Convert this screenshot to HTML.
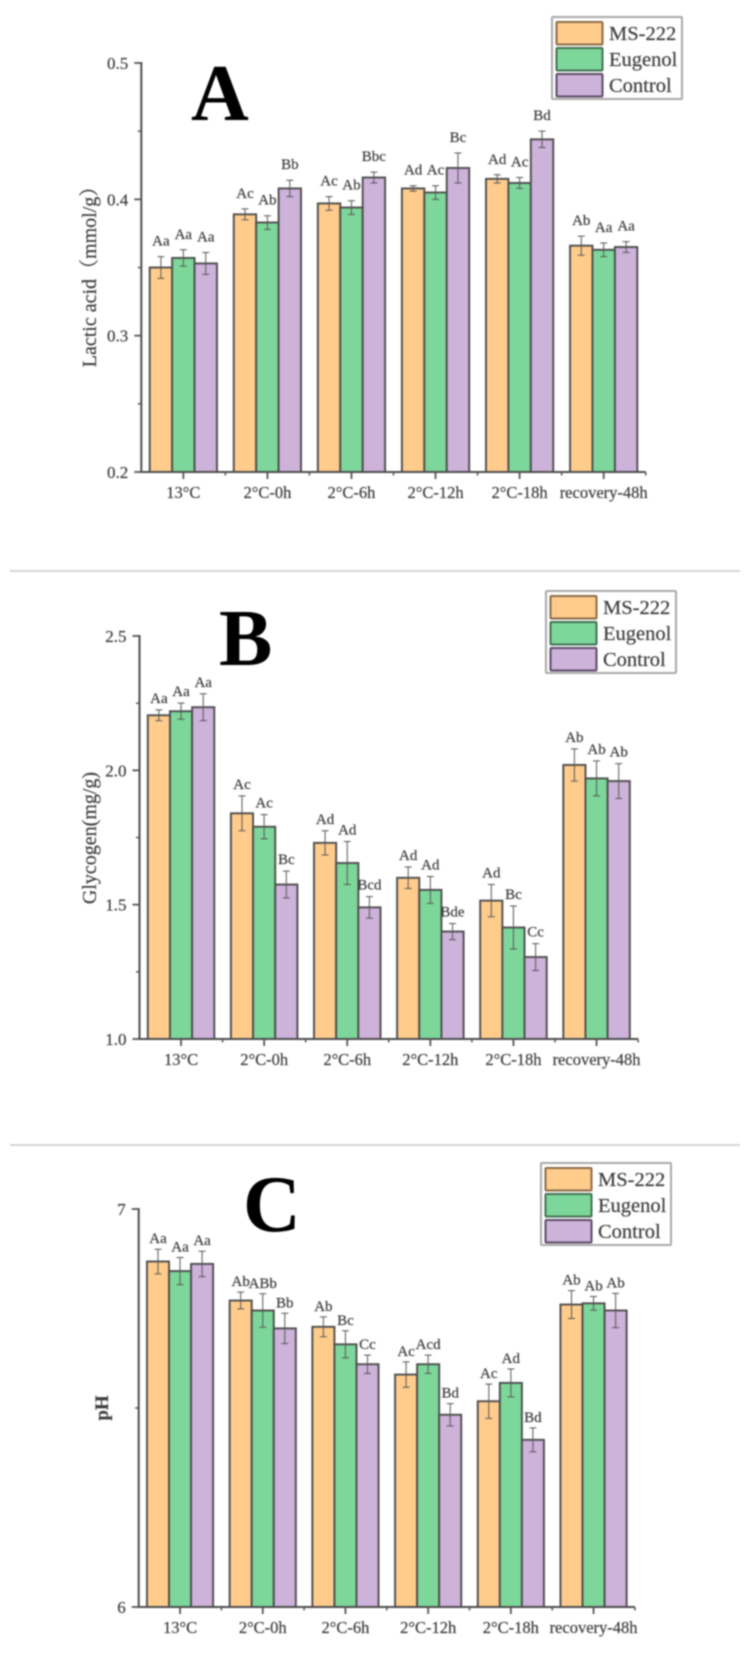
<!DOCTYPE html>
<html lang="en">
<head>
<meta charset="utf-8">
<title>Lactic acid, glycogen and pH bar charts</title>
<style>
html,body{margin:0;padding:0;background:#fff;width:752px;height:1666px;overflow:hidden}
svg{display:block;filter:blur(0.8px)}
text{font-family:"Liberation Serif","Noto Serif CJK SC",serif;fill:#3c3c3c;stroke:#3c3c3c;stroke-width:0.2px}
</style>
</head>
<body>
<svg id="figure" width="752" height="1666" viewBox="0 0 752 1666" xmlns="http://www.w3.org/2000/svg">
<rect x="0" y="0" width="752" height="1666" fill="#fff"/>
<line x1="10" x2="740" y1="571" y2="571" stroke="#c8c8c8" stroke-width="1.5"/>
<line x1="10" x2="740" y1="1145" y2="1145" stroke="#c8c8c8" stroke-width="1.5"/>
</svg>
<script>
const categories = ['13°C','2°C-0h','2°C-6h','2°C-12h','2°C-18h','recovery-48h'];
const seriesNames = ['MS-222','Eugenol','Control'];

const lacticMs = [0.350,0.389,0.397,0.408,0.415,0.366];
const lacticEu = [0.357,0.383,0.394,0.405,0.412,0.363];
const lacticCt = [0.353,0.408,0.416,0.423,0.444,0.365];
const lacticMsErr = [0.008,0.004,0.005,0.002,0.003,0.007];
const lacticEuErr = [0.006,0.005,0.005,0.005,0.004,0.005];
const lacticCtErr = [0.008,0.006,0.004,0.011,0.006,0.004];
const lacticMsSig = ['Aa','Ac','Ac','Ad','Ad','Ab'];
const lacticEuSig = ['Aa','Ab','Ab','Ac','Ac','Aa'];
const lacticCtSig = ['Aa','Bb','Bbc','Bc','Bd','Aa'];
const lacticTicks = [0.2,0.3,0.4,0.5];
const lacticTickLabels = ['0.2','0.3','0.4','0.5'];
const lacticMinor = [0.25,0.35,0.45];

const glycogenMs = [2.205,1.84,1.73,1.60,1.515,2.02];
const glycogenEu = [2.22,1.79,1.655,1.555,1.415,1.97];
const glycogenCt = [2.235,1.575,1.49,1.40,1.305,1.96];
const glycogenMsErr = [0.02,0.065,0.045,0.04,0.06,0.06];
const glycogenEuErr = [0.03,0.045,0.08,0.05,0.08,0.065];
const glycogenCtErr = [0.05,0.05,0.04,0.03,0.05,0.065];
const glycogenMsSig = ['Aa','Ac','Ad','Ad','Ad','Ab'];
const glycogenEuSig = ['Aa','Ac','Ad','Ad','Bc','Ab'];
const glycogenCtSig = ['Aa','Bc','Bcd','Bde','Cc','Ab'];
const glycogenTicks = [1.0,1.5,2.0,2.5];
const glycogenTickLabels = ['1.0','1.5','2.0','2.5'];
const glycogenMinor = [1.25,1.75,2.25];

const phMs = [6.868,6.77,6.704,6.584,6.517,6.76];
const phEu = [6.844,6.745,6.66,6.61,6.563,6.763];
const phCt = [6.862,6.70,6.61,6.483,6.42,6.745];
const phMsErr = [0.031,0.021,0.025,0.032,0.043,0.035];
const phEuErr = [0.034,0.042,0.034,0.023,0.035,0.017];
const phCtErr = [0.032,0.038,0.023,0.028,0.03,0.043];
const phMsSig = ['Aa','Ab','Ab','Ac','Ac','Ab'];
const phEuSig = ['Aa','ABb','Bc','Acd','Ad','Ab'];
const phCtSig = ['Aa','Bb','Cc','Bd','Bd','Ab'];
const phTicks = [6,7];
const phTickLabels = ['6','7'];
const phMinor = [6.5];

const fills = ['#FFCC8C','#7DD79A','#CDB2DA'];
const edges = ['#8a6a45','#3f6f50','#5a4a66'];
const svg = document.getElementById('figure');
const NS = 'http://www.w3.org/2000/svg';

function mk(tag, attrs, parent, txt){
  const el = document.createElementNS(NS, tag);
  for(const k in attrs){ el.setAttribute(k, attrs[k]); }
  if(txt !== undefined){ el.textContent = txt; }
  (parent || svg).appendChild(el);
  return el;
}

function drawPanel(p){
  const g = mk('g', {});
  
  
  const yScale = v => p.yBottom - (v - p.min) / (p.max - p.min) * (p.yBottom - p.yTop);
  const xCenter = i => p.x0 + p.step * (i + 0.5);
  const barW = p.step * 0.8 / 3;
  const xEnd = p.x0 + p.step * categories.length;

  p.series.forEach((vals, s) => {
    vals.forEach((v, i) => {
      const left = xCenter(i) + (s - 1.5) * barW;
      const top = yScale(v);
      const bar = mk('rect', {x:left, y:top, width:barW, height:p.yBottom - top, fill:fills[s], stroke:'#4c4c4c', 'stroke-width':1.9}, g);
      
      
    });
  });

  p.series.forEach((vals, s) => {
    vals.forEach((v, i) => {
      const cx = xCenter(i) + (s - 1) * barW;
      const e = p.errors[s][i];
      const yHi = yScale(v + e);
      const yLo = yScale(v - e);
      const eb = mk('path', {d:'M'+cx+' '+yHi+'V'+yLo+'M'+(cx-3.5)+' '+yHi+'h7M'+(cx-3.5)+' '+yLo+'h7', stroke:'#555', 'stroke-width':1, fill:'none'}, g);
      
      
      const lab = mk('text', {x:cx, y:yHi - p.sigGap, 'text-anchor':'middle', 'font-size':15}, g, p.sig[s][i]);
      
      
    });
  });

  const yAxis = mk('line', {x1:p.x0, x2:p.x0, y1:p.yTop - 1, y2:p.yBottom + 1, stroke:'#4c4c4c', 'stroke-width':2}, g);
  
  
  const xAxis = mk('line', {x1:p.x0, x2:xEnd, y1:p.yBottom, y2:p.yBottom, stroke:'#4c4c4c', 'stroke-width':2}, g);
  
  

  p.ticks.forEach((t, i) => {
    const y = yScale(t);
    const tk = mk('line', {x1:p.x0 - 7, x2:p.x0, y1:y, y2:y, stroke:'#555', 'stroke-width':1.8}, g);
    
    
    const tl = mk('text', {x:p.x0 - 13, y:y + 6, 'text-anchor':'end', 'font-size':17}, g, p.tickLabels[i]);
    
    
  });
  p.minor.forEach(t => {
    const y = yScale(t);
    const tk = mk('line', {x1:p.x0 - 3.5, x2:p.x0, y1:y, y2:y, stroke:'#555', 'stroke-width':1.5}, g);
    
    
  });

  categories.forEach((c, i) => {
    const x = xCenter(i);
    const tk = mk('line', {x1:x, x2:x, y1:p.yBottom, y2:p.yBottom + 7, stroke:'#555', 'stroke-width':1.8}, g);
    
    
    const bx = p.x0 + p.step * (i + 1);
    const mt = mk('line', {x1:bx, x2:bx, y1:p.yBottom, y2:p.yBottom + 3.5, stroke:'#555', 'stroke-width':1.5}, g);
    
    
    const tl = mk('text', {x:x, y:p.yBottom + 26, 'text-anchor':'middle', 'font-size':16.5}, g, c);
    
    
  });

  const title = mk('text', {transform:'translate('+p.titleX+' '+p.titleY+') rotate(-90)', 'text-anchor':'middle', 'font-size':p.titleSize, 'font-weight':p.titleWeight}, g, p.title);
  
  

  const letter = mk('text', {x:p.letterX, y:p.letterY, 'font-size':80, 'font-weight':'bold', style:'fill:#000;stroke:none'}, g, p.letter);
  
  

  const lg = mk('g', {transform:'translate('+p.legendX+' '+p.legendY+')'}, g);
  
  
  const box = mk('rect', {x:0, y:0, width:130, height:82, fill:'#fff', stroke:'#a8a8a8', 'stroke-width':2, rx:1}, lg);
  
  
  seriesNames.forEach((n, s) => {
    const sw = mk('rect', {x:4.5, y:5 + s * 26, width:46, height:22.5, fill:fills[s], stroke:edges[s], 'stroke-width':2, rx:1}, lg);
    
    
    const tx = mk('text', {x:57, y:23 + s * 26, 'font-size':20.5}, lg, n);
    
    
  });
}

drawPanel({id:'lactic', x0:141.3, step:84.07, yTop:63, yBottom:472, min:0.2, max:0.5,
  series:[lacticMs,lacticEu,lacticCt], errors:[lacticMsErr,lacticEuErr,lacticCtErr], sig:[lacticMsSig,lacticEuSig,lacticCtSig],
  ticks:lacticTicks, tickLabels:lacticTickLabels, minor:lacticMinor, sigGap:11,
  title:'Lactic acid（mmol/g）', titleX:96, titleY:272, titleSize:20, titleWeight:'normal',
  letter:'A', letterX:191, letterY:120, legendX:552, legendY:17});

drawPanel({id:'glycogen', x0:139.5, step:83.1, yTop:636, yBottom:1039, min:1.0, max:2.5,
  series:[glycogenMs,glycogenEu,glycogenCt], errors:[glycogenMsErr,glycogenEuErr,glycogenCtErr], sig:[glycogenMsSig,glycogenEuSig,glycogenCtSig],
  ticks:glycogenTicks, tickLabels:glycogenTickLabels, minor:glycogenMinor, sigGap:7,
  title:'Glycogen(mg/g)', titleX:96, titleY:838, titleSize:20, titleWeight:'normal',
  letter:'B', letterX:219, letterY:665, legendX:546, legendY:591});

drawPanel({id:'ph', x0:138.7, step:82.7, yTop:1209, yBottom:1607, min:6, max:7,
  series:[phMs,phEu,phCt], errors:[phMsErr,phEuErr,phCtErr], sig:[phMsSig,phEuSig,phCtSig],
  ticks:phTicks, tickLabels:phTickLabels, minor:phMinor, sigGap:6,
  title:'pH', titleX:108, titleY:1408, titleSize:19, titleWeight:'bold',
  letter:'C', letterX:243, letterY:1231, legendX:541, legendY:1163});
</script>
</body>
</html>
